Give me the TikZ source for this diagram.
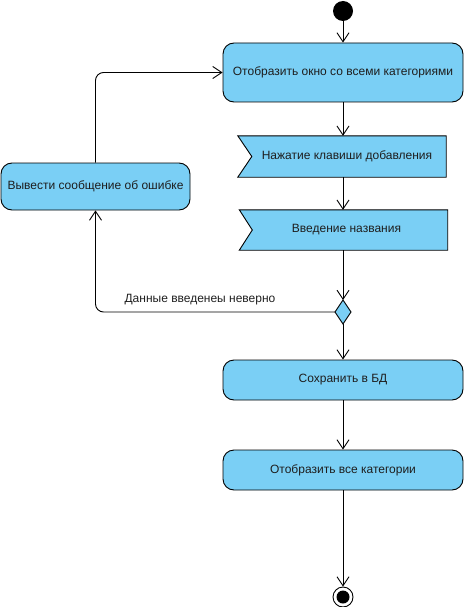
\documentclass[tikz,border=0pt]{standalone}
\usepackage{fontspec}
\setmainfont{Liberation Sans}
\usetikzlibrary{arrows.meta,calc}
\definecolor{actfill}{RGB}{122,207,245}
\definecolor{txt}{RGB}{30,30,30}
\tikzset{
  actbox/.style={draw=black, fill=actfill, rounded corners=11pt, line width=0.9pt, text=txt,
    font=\fontsize{12}{14}\selectfont, inner sep=0pt},
  flagtext/.style={draw=none, text=txt, font=\fontsize{12}{14}\selectfont, inner sep=0pt,
    minimum width=208pt, minimum height=41pt},
  flagshape/.style={draw=black, fill=actfill, line width=0.9pt},
  arr/.style={draw=black, line width=0.9pt, -{Straight Barb[length=9pt,width=12pt,line width=0.9pt]}},
  conn/.style={draw=black, line width=0.9pt},
  lbl/.style={text=txt, font=\fontsize{12}{14}\selectfont, inner sep=0pt},
}
\begin{document}
\begin{tikzpicture}[x=1pt,y=-1pt]
\useasboundingbox (0,0) rectangle (465,607);
% start
\node[circle, fill=black, minimum size=20pt, inner sep=0pt] (start) at (343,11) {};
% box 1
\node[actbox, minimum width=240pt, minimum height=59pt] (b1) at (343,72.5) {Отобразить окно со всеми категориями};
% flag 1
\node[flagtext] (f1) at (342,156.5) {};
\filldraw[flagshape] (f1.north west) -- (f1.north east) -- (f1.south east) -- (f1.south west) -- ($(f1.west)+(14,0)$) -- cycle;
\node[lbl] at ($(f1.center)+(5,0)$) {Нажатие клавиши добавления};
% flag 2
\node[flagtext, minimum height=40pt] (f2) at (343.5,230) {};
\filldraw[flagshape] (f2.north west) -- (f2.north east) -- (f2.south east) -- (f2.south west) -- ($(f2.west)+(13,0)$) -- cycle;
\node[lbl] at ($(f2.center)+(3,0)$) {Введение названия};
% diamond
\coordinate (dc) at (343,312);
\filldraw[flagshape] ($(dc)+(0,-12)$) coordinate (dtop) -- ($(dc)+(8,0)$) coordinate (dright)
  -- ($(dc)+(0,12)$) coordinate (dbot) -- ($(dc)+(-8,0)$) coordinate (dleft) -- cycle;
% error box
\node[actbox, minimum width=189pt, minimum height=47pt] (err) at (95.5,186.5) {Вывести сообщение об ошибке};
% box 3
\node[actbox, minimum width=240pt, minimum height=40pt] (b3) at (343,380) {Сохранить в БД};
% box 4
\node[actbox, minimum width=240pt, minimum height=40pt] (b4) at (343,470) {Отобразить все категории};
% end
\node[circle, draw=black, fill=white, line width=0.9pt, minimum size=20pt, inner sep=0pt] (end) at (343,597) {};
\fill[black] (end.center) circle (6.5pt);
% connectors
\draw[arr] (start) -- (b1);
\draw[arr] (b1) -- (b1 |- f1.north);
\draw[arr] (f1.south -| b1) -- (f2.north -| b1);
\draw[arr] (f2.south -| b1) -- (dtop);
\draw[arr, rounded corners=8pt] (dleft) -| (err.south);
\node[lbl] (lab) at (200,300) {Данные введенеы неверно};
\draw[arr, rounded corners=8pt] (err.north) |- (b1.west);
\draw[arr] (dbot) -- (b3.north -| dbot);
\draw[arr] (b3) -- (b4);
\draw[arr] (b4) -- (end);
\end{tikzpicture}
\end{document}
